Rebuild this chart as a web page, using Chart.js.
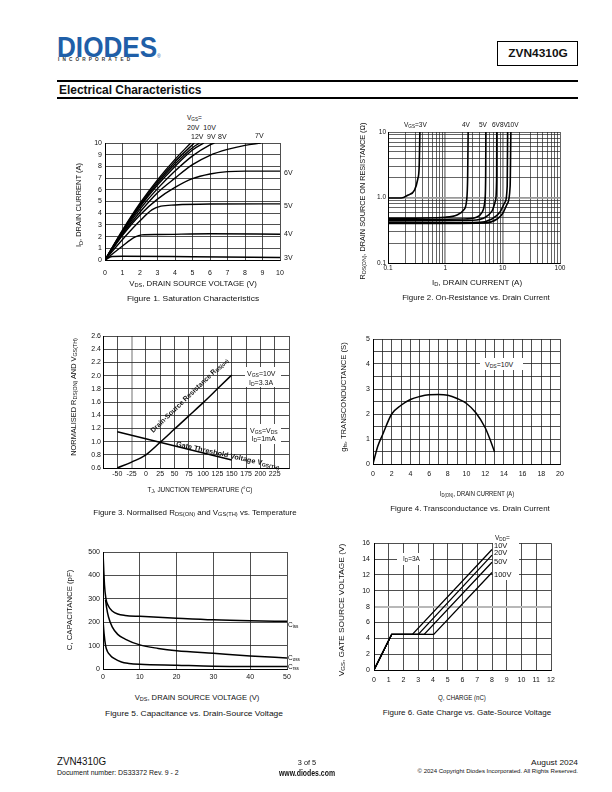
<!DOCTYPE html>
<html>
<head>
<meta charset="utf-8">
<script src="https://cdn.jsdelivr.net/npm/chart.js@4.4.0/dist/chart.umd.min.js"></script>
<style>
html,body{margin:0;padding:0;background:#fff;}
body{width:612px;height:792px;position:relative;overflow:hidden;font-family:"Liberation Sans",Arial,sans-serif;color:#111;}
.t{position:absolute;white-space:nowrap;line-height:1;color:#111;}
.rect{position:absolute;background:#fff;}
canvas{position:absolute;}
sub{font-size:72%;vertical-align:-0.22em;line-height:0;}
</style>
</head>
<body>
<canvas id="fig1"></canvas>
<canvas id="fig2"></canvas>
<canvas id="fig3"></canvas>
<canvas id="fig4"></canvas>
<canvas id="fig5"></canvas>
<canvas id="fig6"></canvas>
<script>
const FONT = '"Liberation Sans", Arial, sans-serif';

// Figure 1: saturation characteristics, [VDS (V), ID (A)]
const fig1Vgs20 = [[0,0],[1,2.55],[2,4.85],[3,6.85],[4,8.6],[4.9,10]];
const fig1Vgs12 = [[0,0],[1,2.5],[2,4.75],[3,6.7],[4,8.4],[5.1,10]];
const fig1Vgs10 = [[0,0],[1,2.45],[2,4.65],[3,6.55],[4,8.2],[5,9.6],[5.4,10]];
const fig1Vgs9 = [[0,0],[1,2.4],[2,4.55],[3,6.4],[4,8.0],[5,9.4],[5.65,10]];
const fig1Vgs8 = [[0,0],[1,2.3],[2,4.35],[3,6.1],[4,7.6],[5,8.9],[6,9.85],[6.25,10]];
const fig1Vgs7 = [[0,0],[1,2.2],[2,4.1],[3,5.75],[4,7.0],[5,8.15],[6,8.95],[7,9.45],[8,9.8],[8.9,10]];
const fig1Vgs6 = [[0,0],[1,2.1],[2,3.85],[3,5.2],[4,6.2],[5,6.95],[6,7.35],[7,7.55],[8,7.6],[10,7.6]];
const fig1Vgs5 = [[0,0],[1,1.75],[2,3.35],[2.7,4.3],[3.2,4.6],[4,4.7],[6,4.78],[10,4.8]];
const fig1Vgs4 = [[0,0],[1,1.2],[1.7,1.95],[2.1,2.15],[3,2.18],[6,2.25],[10,2.2]];
const fig1Vgs3 = [[0,0],[0.4,0.3],[1,0.32],[5,0.28],[10,0.22]];

// Figure 2: on-resistance, [ID (A), RDS(on) (ohm)]
const fig2Vgs3 = [[0.1,0.98],[0.17,0.98],[0.22,1.08],[0.29,1.3],[0.33,1.9],[0.35,3],[0.36,10]];
const fig2Vgs4 = [[0.1,0.48],[1,0.5],[1.6,0.54],[2.1,0.65],[2.35,0.9],[2.45,2],[2.5,10]];
const fig2Vgs5 = [[0.1,0.46],[2,0.47],[3.5,0.5],[4.4,0.6],[4.9,0.9],[5.05,2],[5.1,10]];
const fig2Vgs6 = [[0.1,0.44],[3,0.45],[5,0.5],[6.5,0.62],[7.5,0.9],[7.85,2],[7.9,10]];
const fig2Vgs8 = [[0.1,0.41],[4,0.42],[6.5,0.47],[9,0.6],[11,0.85],[12,1.5],[12.2,10]];
const fig2Vgs10 = [[0.1,0.4],[5,0.41],[8,0.47],[10,0.57],[12,0.8],[13.5,1.5],[13.9,10]];

// Figure 3: normalised values vs junction temperature (C)
const fig3Rds = [[-50,0.6],[-25,0.69],[0,0.8],[25,0.99],[50,1.19],[75,1.39],[100,1.59],[125,1.8],[150,2.01]];
const fig3Vth = [[-50,1.15],[150,0.72]];

// Figure 4: transconductance, [ID(on) (A), gfs (S)]
const fig4Gfs = [[0,0],[0.5,0.7],[1,1.15],[2,2.0],[3,2.35],[4,2.58],[5,2.7],[6,2.77],[7,2.78],[8,2.75],[9,2.62],[10,2.42],[11,2.05],[12,1.45],[12.5,1.0],[13,0.48]];

// Figure 5: capacitance, [VDS (V), C (pF)]
const fig5Ciss = [[0,500],[0.4,360],[0.8,300],[1.5,268],[2.5,248],[4,235],[6,229],[10,225],[20,217],[30,210],[40,206],[50,204]];
const fig5Coss = [[0.7,295],[1,260],[1.5,222],[2.5,180],[4,148],[6,128],[10,103],[15,88],[20,78],[30,67],[40,56],[50,47]];
const fig5Crss = [[0,210],[0.3,150],[0.7,100],[1.2,75],[2,58],[3,45],[5,30],[7,24],[10,20],[20,16],[30,12],[40,11],[50,11]];

// Figure 6: gate charge, [Q (nC), VGS (V)]
const fig6Vdd10 = [[0,0],[1.2,4.5],[2.6,4.5],[8,15.2]];
const fig6Vdd20 = [[0,0],[1.2,4.5],[3.0,4.5],[8,14.5]];
const fig6Vdd50 = [[0,0],[1.2,4.5],[3.4,4.5],[8,13.6]];
const fig6Vdd100 = [[0,0],[1.2,4.5],[4.05,4.5],[8,12.3]];

const YW = 30, XH = 20, PT = 8, PR = 14;

function ds(pts, w, smooth) {
  return {
    data: pts.map(p => ({x: p[0], y: p[1]})),
    showLine: true, borderColor: '#000', borderWidth: w, pointRadius: 0, fill: false,
    tension: smooth ? 0.4 : 0, cubicInterpolationMode: smooth ? 'monotone' : 'default'
  };
}

function lin(min, max, step, pad, cb, special) {
  return {
    type: 'linear', min: min, max: max,
    ticks: { stepSize: step, padding: pad, color: '#111', font: {family: FONT, size: 7},
      autoSkip: false, maxRotation: 0, minRotation: 0, callback: cb || (v => v) },
    grid: { drawTicks: false, tickLength: 0,
      color: c => (special && c.tick && c.tick.value === special) ? '#b8b8b8' : '#222',
      lineWidth: c => (special && c.tick && c.tick.value === special) ? 2 : 0.8 },
    border: { display: true, color: '#000', width: 1 }
  };
}

function logTicks(a, b) {
  const t = [];
  for (let d = a; d < b * 0.99; d *= 10) {
    for (let k = 1; k < 10; k++) t.push(+(k * d).toPrecision(3));
  }
  t.push(b);
  return t;
}

function logAx(min, max, pad, cb) {
  const tk = logTicks(min, max);
  const dec = v => v !== min && v !== max && Math.abs(Math.log10(v) - Math.round(Math.log10(v))) < 1e-6;
  return {
    type: 'logarithmic', min: min, max: max,
    afterBuildTicks: s => { s.ticks = tk.map(v => ({value: v})); },
    ticks: { padding: pad, color: '#111', font: {family: FONT, size: 6.5}, autoSkip: false, maxRotation: 0, callback: cb },
    grid: { drawTicks: false, tickLength: 0,
      color: c => (c.tick && dec(c.tick.value)) ? '#9a9a9a' : '#222',
      lineWidth: c => (c.tick && dec(c.tick.value)) ? 1.8 : 0.7 },
    border: { display: true, color: '#000', width: 1 }
  };
}

function makeChart(id, box, xs, ys, sets) {
  const cv = document.getElementById(id);
  const w = box.r - box.l + YW + PR, h = box.b - box.t + PT + XH;
  cv.width = w; cv.height = h;
  cv.style.width = w + 'px'; cv.style.height = h + 'px';
  cv.style.left = (box.l - YW) + 'px';
  cv.style.top = (box.t - PT) + 'px';
  xs.afterFit = s => { s.height = XH; };
  ys.afterFit = s => { s.width = YW; };
  return new Chart(cv, {
    type: 'scatter',
    data: { datasets: sets },
    options: {
      responsive: false, animation: false, devicePixelRatio: 1,
      layout: { padding: { top: PT, right: PR, left: 0, bottom: 0 } },
      plugins: { legend: { display: false }, tooltip: { enabled: false } },
      scales: { x: xs, y: ys }
    }
  });
}

makeChart('fig1', {l: 105, r: 280, t: 143, b: 260},
  lin(0, 10, 1, 9), lin(0, 10, 1, 3),
  [fig1Vgs20, fig1Vgs12, fig1Vgs10, fig1Vgs9, fig1Vgs8, fig1Vgs7, fig1Vgs6, fig1Vgs5, fig1Vgs4, fig1Vgs3].map(s => ds(s, 1.4, true)));

makeChart('fig2', {l: 388, r: 560, t: 132, b: 263},
  logAx(0.1, 100, 1, v => ({0.1: '0.1', 1: '1', 10: '10', 100: '100'})[v] || ''),
  logAx(0.1, 10, 2, v => ({0.1: '0.1', 1: '1.0', 10: '10'})[v] || ''),
  [fig2Vgs3, fig2Vgs4, fig2Vgs5, fig2Vgs6, fig2Vgs8, fig2Vgs10].map(s => ds(s, 1.6, true)));

makeChart('fig3', {l: 103, r: 289, t: 336, b: 468},
  lin(-75, 250, 25, 2, v => (v === -75 || v === 250) ? '' : v, -25),
  lin(0.6, 2.6, 0.2, 2, v => v.toFixed(1)),
  [ds(fig3Rds, 1.5, true), ds(fig3Vth, 1.5, false)]);

makeChart('fig4', {l: 373, r: 560, t: 339, b: 464},
  lin(0, 20, 1, 6, v => v % 2 === 0 ? v : ''),
  lin(0, 5, 0.5, 3, v => Number.isInteger(v) ? v : ''),
  [ds(fig4Gfs, 1.5, true)]);

makeChart('fig5', {l: 103, r: 287, t: 552, b: 669},
  lin(0, 50, 10, 4), lin(0, 500, 100, 3),
  [ds(fig5Ciss, 1.5, true), ds(fig5Coss, 1.5, true), ds(fig5Crss, 1.5, true)]);

makeChart('fig6', {l: 374, r: 551, t: 543, b: 670},
  lin(0, 12, 1, 6), lin(0, 16, 2, 4, null, 8),
  [fig6Vdd10, fig6Vdd20, fig6Vdd50, fig6Vdd100].map(s => ds(s, 1.3, false)));

// white patches behind the in-plot notes
function rect(x, y, w, h, st) {
  const d = document.createElement('div');
  d.className = 'rect';
  d.style.left = x + 'px'; d.style.top = y + 'px';
  d.style.width = w + 'px'; d.style.height = h + 'px';
  if (st) Object.assign(d.style, st);
  document.body.appendChild(d);
}

function txt(html, x, y, size, w, o) {
  o = o || {};
  const d = document.createElement('div');
  d.className = 't';
  d.innerHTML = html;
  d.style.fontSize = size + 'px';
  if (o.b) d.style.fontWeight = 'bold';
  if (o.color) d.style.color = o.color;
  if (o.ls) d.style.letterSpacing = o.ls + 'px';
  d.style.left = x + 'px'; d.style.top = y + 'px';
  document.body.appendChild(d);
  const s = w ? w / d.offsetWidth : 1;
  const a = o.a || 'c';
  const tx = a === 'c' ? '-50%' : a === 'r' ? '-100%' : '0';
  d.style.transformOrigin = a === 'c' ? '50% 50%' : a === 'r' ? '100% 50%' : '0 50%';
  d.style.transform = 'translate(' + tx + ',-50%) rotate(' + (o.rot || 0) + 'deg) scaleX(' + s + ')';
}

// header
txt('DIODES', 57, 46.5, 29, 100, {a: 'l', b: 1, color: '#1f5fa8'});
txt('®', 157, 56, 5, 0, {a: 'l', color: '#1f5fa8'});
txt('INCORPORATED', 58, 60, 4.5, 75, {a: 'l', ls: 3, b: 1, color: '#333'});
rect(497, 41, 79, 23, {border: '1px solid #000'});
txt('ZVN4310G', 537.5, 54, 11.5, 60, {b: 1});
rect(57, 80, 521, 2, {background: '#000'});
txt('Electrical Characteristics', 59, 90, 12, 142, {a: 'l', b: 1});
rect(57, 97, 521, 2, {background: '#000'});

// figure 1
txt('I<sub>D</sub>, DRAIN CURRENT (A)', 79, 205, 7.3, 84, {rot: -90});
txt('V<sub>DS</sub>, DRAIN SOURCE VOLTAGE (V)', 193, 284, 7.5, 128);
txt('Figure 1. Saturation Characteristics', 193, 299, 7.8, 132);
txt('V<sub>GS</sub>=', 187, 118, 6.5, 0, {a: 'l'});
txt('20V&nbsp; 10V', 187, 127, 7, 0, {a: 'l'});
txt('12V', 191, 136, 7, 0, {a: 'l'});
txt('9V', 207, 136, 7, 0, {a: 'l'});
txt('8V', 218, 136, 7, 0, {a: 'l'});
txt('7V', 255, 135, 7, 0, {a: 'l'});
txt('6V', 284, 172, 7, 0, {a: 'l'});
txt('5V', 284, 205, 7, 0, {a: 'l'});
txt('4V', 284, 233, 7, 0, {a: 'l'});
txt('3V', 284, 257, 7, 0, {a: 'l'});

// figure 2
txt('R<sub>DS(ON)</sub>, DRAIN SOURCE ON RESISTANCE (Ω)', 363, 201, 7.5, 157, {rot: -90});
txt('I<sub>D</sub>, DRAIN CURRENT (A)', 477, 283, 7.5, 90);
txt('Figure 2. On-Resistance vs. Drain Current', 476, 298, 7.8, 148);
txt('V<sub>GS</sub>=3V', 404, 125, 6.5, 0, {a: 'l'});
txt('4V', 462, 125, 6.5, 0, {a: 'l'});
txt('5V', 479, 125, 6.5, 0, {a: 'l'});
txt('6V', 492, 125, 6.5, 0, {a: 'l'});
txt('8V', 500, 125, 6.5, 0, {a: 'l'});
txt('10V', 507, 125, 6.5, 0, {a: 'l'});

// figure 3
txt('NORMALISED R<sub>DS(ON)</sub> AND V<sub>GS(TH)</sub>', 73, 397, 7, 117, {rot: -90});
txt('T<sub>J</sub>, JUNCTION TEMPERATURE (°C)', 200, 489, 7, 105);
txt('Figure 3. Normalised R<sub>DS(ON)</sub> and V<sub>GS(TH)</sub> vs. Temperature', 195, 513, 7.5, 203);
txt('Drain-Source Resistance R<sub>DS(on)</sub>', 189, 395, 7, 104, {rot: -44, b: 1});
txt('Gate Threshold Voltage V<sub>GS(TH)</sub>', 228, 455, 7, 106, {rot: 12.5, b: 1});
rect(245, 367, 36, 20);
rect(247, 424, 34, 20);
txt('V<sub>GS</sub>=10V', 247, 373, 7, 0, {a: 'l'});
txt('I<sub>D</sub>=3.3A', 249, 381.5, 7, 0, {a: 'l'});
txt('V<sub>GS</sub>=V<sub>DS</sub>', 250, 430, 7, 0, {a: 'l'});
txt('I<sub>D</sub>=1mA', 251.5, 438, 7, 0, {a: 'l'});

// figure 4
txt('g<sub>fs</sub>, TRANSCONDUCTANCE (S)', 343, 397, 7, 110, {rot: -90});
txt('I<sub>D(ON)</sub>, DRAIN CURRENT (A)', 477, 493, 7, 74);
txt('Figure 4. Transconductance vs. Drain Current', 470, 509, 7.6, 160);
rect(480, 358, 43, 12);
txt('V<sub>DS</sub>=10V', 485, 364, 7, 0, {a: 'l'});

// figure 5
txt('C, CAPACITANCE (pF)', 69, 610, 7, 80, {rot: -90});
txt('V<sub>DS</sub>, DRAIN SOURCE VOLTAGE (V)', 197, 698, 7.5, 125);
txt('Figure 5. Capacitance vs. Drain-Source Voltage', 194, 714, 8, 178);
txt('C<sub>iss</sub>', 288, 625, 6.5, 0, {a: 'l'});
txt('C<sub>oss</sub>', 288, 658, 6.5, 0, {a: 'l'});
txt('C<sub>rss</sub>', 288, 667, 6.5, 0, {a: 'l'});

// figure 6
txt('V<sub>GS</sub>, GATE SOURCE VOLTAGE (V)', 342, 610, 7.5, 133, {rot: -90});
txt('Q, CHARGE (nC)', 462, 698, 7.5, 48);
txt('Figure 6. Gate Charge vs. Gate-Source Voltage', 467, 713, 7.8, 168);
rect(493, 537, 26, 43);
rect(397, 553, 33, 12);
txt('V<sub>DD</sub>=', 495, 538, 6.5, 0, {a: 'l'});
txt('10V', 494, 545.5, 7.5, 0, {a: 'l'});
txt('20V', 494, 553, 7.5, 0, {a: 'l'});
txt('50V', 494, 562, 7.5, 0, {a: 'l'});
txt('100V', 494, 575, 7.5, 0, {a: 'l'});
txt('I<sub>D</sub>=3A', 403, 559, 6.5, 0, {a: 'l'});

// footer
txt('ZVN4310G', 57, 762, 10, 49, {a: 'l'});
txt('Document number: DS33372 Rev. 9 - 2', 57, 772.5, 6.5, 122, {a: 'l'});
txt('3 of 5', 307, 762.5, 6.5, 18);
txt('www.diodes.com', 307, 772.5, 8.5, 56, {b: 1});
txt('August 2024', 578, 762.5, 8, 47, {a: 'r'});
txt('© 2024 Copyright Diodes Incorporated. All Rights Reserved.', 578, 772, 5.5, 161, {a: 'r'});
</script>
</body>
</html>
